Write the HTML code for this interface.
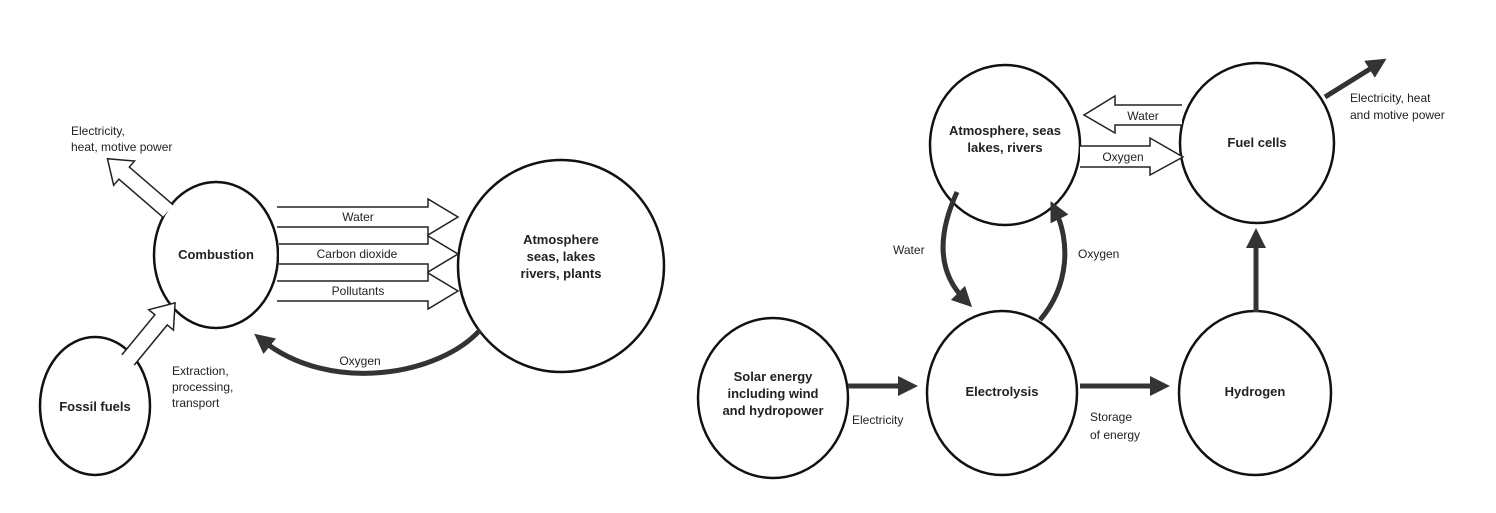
<!DOCTYPE html>
<html><head><meta charset="utf-8"><style>
html,body{margin:0;padding:0;background:#fff;}
svg{display:block;}
text{font-family:"Liberation Sans",sans-serif;fill:#222;}
.b{font-weight:bold;font-size:13px;}
.n{font-size:12px;}
</style></head><body>
<svg width="1496" height="513" viewBox="0 0 1496 513">
<defs>
<marker id="ah" markerWidth="4" markerHeight="4" refX="2" refY="2" orient="auto" markerUnits="strokeWidth">
<path d="M0,0 L4,2 L0,4 z" fill="#333"/></marker>
</defs>
<g fill="none" stroke="#111" stroke-width="2.5">
<ellipse cx="216" cy="255" rx="62" ry="73"/>
<ellipse cx="561" cy="266" rx="103" ry="106"/>
<ellipse cx="95" cy="406" rx="55" ry="69"/>
<ellipse cx="1005" cy="145" rx="75" ry="80"/>
<ellipse cx="1257" cy="143" rx="77" ry="80"/>
<ellipse cx="773" cy="398" rx="75" ry="80"/>
<ellipse cx="1002" cy="393" rx="75" ry="82"/>
<ellipse cx="1255" cy="393" rx="76" ry="82"/>
</g>
<g fill="#fff" stroke="#222" stroke-width="1.5">
<path d="M277,207 L428,207 L428,199 L458,217 L428,235 L428,227 L277,227"/>
<path d="M279,244 L428,244 L428,236 L458,254 L428,272 L428,264 L279,264"/>
<path d="M277,281 L428,281 L428,273 L458,291 L428,309 L428,301 L277,301"/>
<path transform="translate(168,211) rotate(-139.2)" d="M0,-8 L58,-8 L58,-16 L80,0 L58,16 L58,8 L0,8"/>
<path transform="translate(128,360) rotate(-50.5)" d="M0,-8 L52,-8 L52,-16 L74,0 L52,16 L52,8 L0,8"/>
<path d="M1182,105 L1115,105 L1115,96 L1084,115 L1115,133 L1115,125 L1182,125"/>
<path d="M1080,146 L1150,146 L1150,138 L1183,157 L1150,175 L1150,167 L1080,167"/>
</g>
<g fill="none" stroke="#333" stroke-width="5">
<path d="M480,330 C440,375 330,395 262,340" marker-end="url(#ah)"/>
<path d="M848,386 L908,386" marker-end="url(#ah)"/>
<path d="M1080,386 L1160,386" marker-end="url(#ah)"/>
<path d="M1256,312 L1256,238" marker-end="url(#ah)"/>
<path d="M1325,97 L1378,64" marker-end="url(#ah)"/>
<path d="M957,192 C935,240 940,275 965,300" marker-end="url(#ah)"/>
<path d="M1040,320 C1070,285 1070,240 1055,210" marker-end="url(#ah)"/>
</g>
<text class="b" x="216" y="259" text-anchor="middle">Combustion</text>
<text class="b" x="561" y="244" text-anchor="middle">Atmosphere</text>
<text class="b" x="561" y="261" text-anchor="middle">seas, lakes</text>
<text class="b" x="561" y="278" text-anchor="middle">rivers, plants</text>
<text class="b" x="95" y="411" text-anchor="middle">Fossil  fuels</text>
<text class="n" x="71" y="135">Electricity,</text>
<text class="n" x="71" y="151">heat, motive power</text>
<text class="n" x="358" y="221" text-anchor="middle">Water</text>
<text class="n" x="357" y="258" text-anchor="middle">Carbon dioxide</text>
<text class="n" x="358" y="295" text-anchor="middle">Pollutants</text>
<text class="n" x="360" y="365" text-anchor="middle">Oxygen</text>
<text class="n" x="172" y="375">Extraction,</text>
<text class="n" x="172" y="391">processing,</text>
<text class="n" x="172" y="407">transport</text>
<text class="b" x="1005" y="135" text-anchor="middle">Atmosphere, seas</text>
<text class="b" x="1005" y="152" text-anchor="middle">lakes, rivers</text>
<text class="b" x="1257" y="147" text-anchor="middle">Fuel  cells</text>
<text class="b" x="773" y="381" text-anchor="middle">Solar energy</text>
<text class="b" x="773" y="398" text-anchor="middle">including wind</text>
<text class="b" x="773" y="415" text-anchor="middle">and hydropower</text>
<text class="b" x="1002" y="396" text-anchor="middle">Electrolysis</text>
<text class="b" x="1255" y="396" text-anchor="middle">Hydrogen</text>
<text class="n" x="1143" y="120" text-anchor="middle">Water</text>
<text class="n" x="1123" y="161" text-anchor="middle">Oxygen</text>
<text class="n" x="1350" y="102">Electricity, heat</text>
<text class="n" x="1350" y="119">and motive power</text>
<text class="n" x="893" y="254">Water</text>
<text class="n" x="1078" y="258">Oxygen</text>
<text class="n" x="852" y="424">Electricity</text>
<text class="n" x="1090" y="421">Storage</text>
<text class="n" x="1090" y="439">of energy</text>
</svg>
</body></html>
